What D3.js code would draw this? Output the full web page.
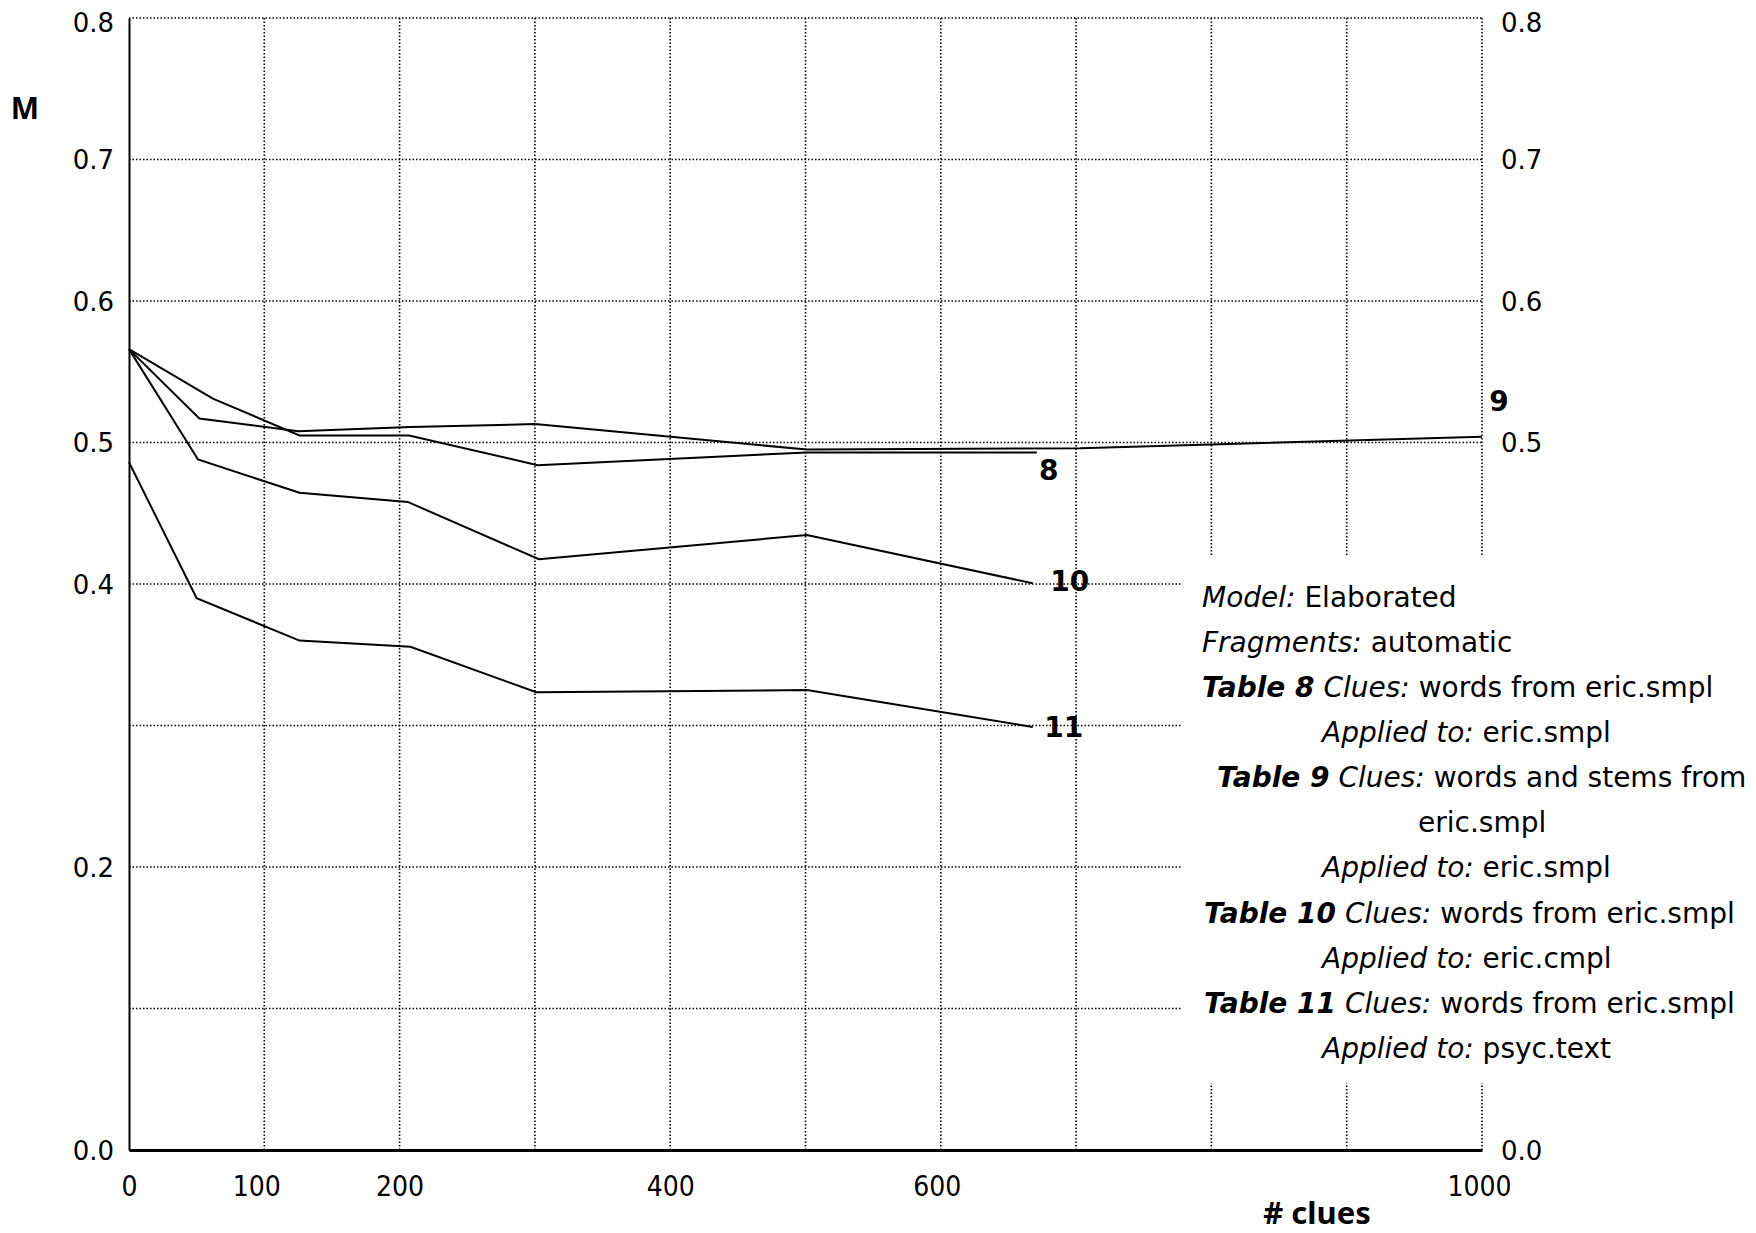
<!DOCTYPE html>
<html>
<head>
<meta charset="utf-8">
<script src="https://cdn.jsdelivr.net/npm/d3@7"></script>
<style>
  html, body { margin: 0; padding: 0; background: #fff; }
  svg { display: block; }
  text { fill: #000; }
</style>
</head>
<body>
<svg id="chart" width="1756" height="1233"></svg>
<script>
// ---- data ----
const xTicks = [0, 100, 200, 400, 600, 1000];
const xGrid = [100, 200, 300, 400, 500, 600, 700, 800, 900];
const yTicksLeft = [0.0, 0.2, 0.4, 0.5, 0.6, 0.7, 0.8];
const yTicksRight = [0.0, 0.5, 0.6, 0.7, 0.8];
const yGrid = [0.1, 0.2, 0.3, 0.4, 0.5, 0.6, 0.7, 0.8];

const clues8 = [0, 62, 126, 207, 302, 501, 671];
const m8 = [0.566, 0.531, 0.505, 0.505, 0.484, 0.493, 0.493];
const clues9 = [0, 52, 125, 208, 300, 501, 703, 1000];
const m9 = [0.566, 0.517, 0.508, 0.511, 0.513, 0.495, 0.496, 0.504];
const clues10 = [0, 51, 126, 206, 303, 501, 668];
const m10 = [0.566, 0.488, 0.4645, 0.458, 0.4175, 0.4346, 0.4005];
const clues11 = [0, 50, 126, 208, 301, 501, 668];
const m11 = [0.486, 0.390, 0.360, 0.3557, 0.3235, 0.325, 0.299];

const seriesNames = ["8", "9", "10", "11"];

const noteLines = [
  [["Model:", "i"], [" Elaborated", "n"]],
  [["Fragments:", "i"], [" automatic", "n"]],
  [["Table 8", "bi"], [" Clues:", "i"], [" words from eric.smpl", "n"]],
  [["Applied to:", "i"], [" eric.smpl", "n"]],
  [["Table 9", "bi"], [" Clues:", "i"], [" words and stems from", "n"]],
  [["eric.smpl", "n"]],
  [["Applied to:", "i"], [" eric.smpl", "n"]],
  [["Table 10", "bi"], [" Clues:", "i"], [" words from eric.smpl", "n"]],
  [["Applied to:", "i"], [" eric.cmpl", "n"]],
  [["Table 11", "bi"], [" Clues:", "i"], [" words from eric.smpl", "n"]],
  [["Applied to:", "i"], [" psyc.text", "n"]]
];

// ---- layout ----
const DEJAVU = '"DejaVu Sans", sans-serif';
const DEJAVU_C = '"DejaVu Sans Condensed", "DejaVu Sans", sans-serif';
const NOTO = '"Noto Sans", "DejaVu Sans", sans-serif';

const svg = d3.select("#chart");
svg.append("rect").attr("width", 1756).attr("height", 1233).attr("fill", "#fff");

const x = d3.scaleLinear().domain([0, 1000]).range([129, 1482]);
const y = d3.scaleLinear().domain([0, 0.8]).range([1150, 18]);

const dotted = "1.5 2";
const gGrid = svg.append("g");
// vertical grid (incl. dotted right border)
gGrid.selectAll("line.v").data(xGrid.concat([1000])).join("line")
  .attr("x1", d => x(d)).attr("x2", d => x(d))
  .attr("y1", y(0.8)).attr("y2", y(0))
  .attr("stroke", "#000").attr("stroke-width", 1.6)
  .attr("stroke-dasharray", dotted);
// horizontal grid (incl. dotted top border)
gGrid.selectAll("line.h").data(yGrid).join("line")
  .attr("x1", x(0)).attr("x2", x(1000))
  .attr("y1", d => y(d)).attr("y2", d => y(d))
  .attr("stroke", "#000").attr("stroke-width", 1.6)
  .attr("stroke-dasharray", dotted);

// series lines
const series = [
  {name: seriesNames[0], xs: clues8, ys: m8, dx: 12, dy: 28},
  {name: seriesNames[1], xs: clues9, ys: m9, dx: 17, dy: -26},
  {name: seriesNames[2], xs: clues10, ys: m10, dx: 37, dy: 8},
  {name: seriesNames[3], xs: clues11, ys: m11, dx: 31, dy: 10}
];
const line = d3.line().x(d => x(d[0])).y(d => y(d[1]));
svg.append("g").selectAll("path").data(series).join("path")
  .attr("d", s => line(s.xs.map((v, i) => [v, s.ys[i]])))
  .attr("fill", "none").attr("stroke", "#000").attr("stroke-width", 2)
  .attr("stroke-linejoin", "miter");

// white box behind notes
svg.append("rect").attr("x", 1181).attr("y", 557).attr("width", 575).attr("height", 526)
  .attr("fill", "#fff");

// axes
const fmt = d3.format(".1f");
const left = svg.append("g").attr("transform", `translate(${x(0)},0)`)
  .call(d3.axisLeft(y).tickValues(yTicksLeft).tickFormat(fmt).tickSize(0).tickPadding(15));
left.select(".domain").attr("stroke", "#000").attr("stroke-width", 2);
left.selectAll("text").style("font-size", "26px").style("font-family", DEJAVU)
  .attr("dy", d => d === 0.8 ? "0.5em" : "0.35em");

const right = svg.append("g").attr("transform", `translate(${x(1000)},0)`)
  .call(d3.axisRight(y).tickValues(yTicksRight).tickFormat(fmt).tickSize(0).tickPadding(19));
right.select(".domain").remove();
right.selectAll("text").style("font-size", "26px").style("font-family", DEJAVU)
  .attr("dy", d => d === 0.8 ? "0.5em" : "0.35em");

const nudge = {100: -8, 600: -4, 1000: -3};
const bottom = svg.append("g").attr("transform", `translate(0,${y(0)})`)
  .call(d3.axisBottom(x).tickValues(xTicks).tickFormat(d3.format("d")).tickSize(0).tickPadding(26).tickSizeOuter(0));
bottom.select(".domain").attr("stroke", "#000").attr("stroke-width", 3);
bottom.selectAll("text").style("font-size", "28px").style("font-family", DEJAVU_C)
  .attr("dx", d => nudge[d] || 0);

// axis titles
svg.append("text").attr("x", 25).attr("y", 119).attr("text-anchor", "middle")
  .style("font-family", NOTO).style("font-size", "30px").style("font-weight", "bold").text("M");
svg.append("text").attr("x", 1317).attr("y", 1224).attr("text-anchor", "middle")
  .style("font-family", NOTO).style("font-size", "31px").style("font-weight", "bold").text("# clues");

// series labels
svg.append("g").selectAll("text").data(series).join("text")
  .attr("x", s => x(s.xs[s.xs.length - 1]) + s.dx)
  .attr("y", s => y(s.ys[s.ys.length - 1]) + s.dy)
  .attr("text-anchor", "middle")
  .style("font-family", DEJAVU).style("font-size", "28px").style("font-weight", "bold")
  .text(s => s.name);

// notes
const noteX = [1202, 1202, 1202, 1322, 1217, 1418, 1322, 1204, 1322, 1204, 1322];
const noteTop = 597, noteStep = 45.1;
const gNotes = svg.append("g");
noteLines.forEach((parts, i) => {
  const t = gNotes.append("text").attr("x", noteX[i]).attr("y", noteTop + i * noteStep)
    .attr("dy", "0.35em")
    .style("font-family", DEJAVU).style("font-size", "28px")
    .style("white-space", "pre");
  parts.forEach(([str, st]) => {
    t.append("tspan").text(str)
      .style("font-style", st === "n" ? "normal" : "italic")
      .style("font-weight", st === "bi" ? "bold" : "normal");
  });
});
</script>
</body>
</html>
